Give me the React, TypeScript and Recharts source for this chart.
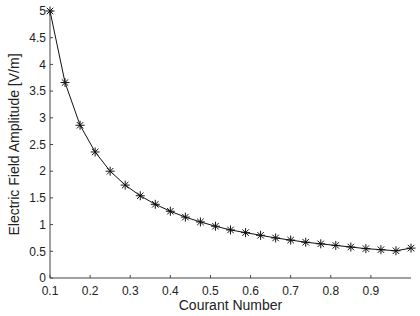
import { CartesianGrid, Label, Line, LineChart, XAxis, YAxis } from 'recharts'

// Courant number samples and measured field amplitude
const courant = [
  0.1, 0.1375, 0.175, 0.2125, 0.25, 0.2875, 0.325, 0.3625, 0.4, 0.4375,
  0.475, 0.5125, 0.55, 0.5875, 0.625, 0.6625, 0.7, 0.7375, 0.775, 0.8125,
  0.85, 0.8875, 0.925, 0.9625, 1.0,
]
const amplitude = [
  5.0, 3.66, 2.86, 2.36, 2.0, 1.74, 1.54, 1.38, 1.25, 1.14,
  1.05, 0.97, 0.9, 0.85, 0.8, 0.75, 0.71, 0.67, 0.64, 0.61,
  0.58, 0.55, 0.53, 0.51, 0.56,
]
const xTicks = [0.1, 0.2, 0.3, 0.4, 0.5, 0.6, 0.7, 0.8, 0.9]
const yTicks = [0, 0.5, 1, 1.5, 2, 2.5, 3, 3.5, 4, 4.5, 5]

const data = courant.map((x, i) => ({ x, y: amplitude[i] }))

const FONT = '"Liberation Sans", Arial, sans-serif'
const INK = '#222'

interface DotProps {
  cx?: number
  cy?: number
  index?: number
}

function StarDot({ cx, cy, index }: DotProps) {
  if (cx == null || cy == null) return null
  const r = 4.5
  const d = r * 0.72
  return (
    <g key={`star-${index}`} stroke="#111" strokeWidth={1}>
      <line x1={cx - r} y1={cy} x2={cx + r} y2={cy} />
      <line x1={cx} y1={cy - r} x2={cx} y2={cy + r} />
      <line x1={cx - d} y1={cy - d} x2={cx + d} y2={cy + d} />
      <line x1={cx - d} y1={cy + d} x2={cx + d} y2={cy - d} />
    </g>
  )
}

export default function App() {
  return (
    <div style={{ position: 'absolute', left: 0, top: 0, width: 420, height: 316, background: '#fff' }}>
      <LineChart
        width={420}
        height={316}
        data={data}
        margin={{ top: 11, right: 9, left: 0, bottom: 0 }}
        style={{ fontFamily: FONT }}
      >
        <CartesianGrid stroke="none" />
        <XAxis
          type="number"
          dataKey="x"
          domain={[0.1, 1]}
          ticks={xTicks}
          height={38}
          tickSize={-3}
          tickMargin={11}
          axisLine={{ stroke: '#444' }}
          tickLine={{ stroke: '#444' }}
          tick={{ fontSize: 12, fill: INK, fontFamily: FONT }}
        >
          <Label
            content={({ viewBox }: any) => (
              <text
                x={viewBox.x + viewBox.width / 2}
                y={viewBox.y + 27}
                textAnchor="middle"
                dominantBaseline="central"
                fontSize={14}
                fill={INK}
                fontFamily={FONT}
              >
                Courant Number
              </text>
            )}
          />
        </XAxis>
        <YAxis
          type="number"
          dataKey="y"
          domain={[0, 5]}
          ticks={yTicks}
          width={50}
          tickSize={-3}
          tickMargin={7}
          axisLine={{ stroke: '#444' }}
          tickLine={{ stroke: '#444' }}
          tick={{ fontSize: 12, fill: INK, fontFamily: FONT }}
        >
          <Label
            content={({ viewBox }: any) => {
              const cx = 14
              const cy = viewBox.y + viewBox.height / 2
              return (
                <text
                  x={cx}
                  y={cy}
                  transform={`rotate(-90 ${cx} ${cy})`}
                  textAnchor="middle"
                  dominantBaseline="central"
                  fontSize={14}
                  fill={INK}
                  fontFamily={FONT}
                >
                  Electric Field Amplitude [V/m]
                </text>
              )
            }}
          />
        </YAxis>
        <Line
          type="linear"
          dataKey="y"
          stroke="#111"
          strokeWidth={1}
          dot={(p: any) => <StarDot key={p.index} cx={p.cx} cy={p.cy} index={p.index} />}
          activeDot={false}
          isAnimationActive={false}
        />
      </LineChart>
    </div>
  )
}
